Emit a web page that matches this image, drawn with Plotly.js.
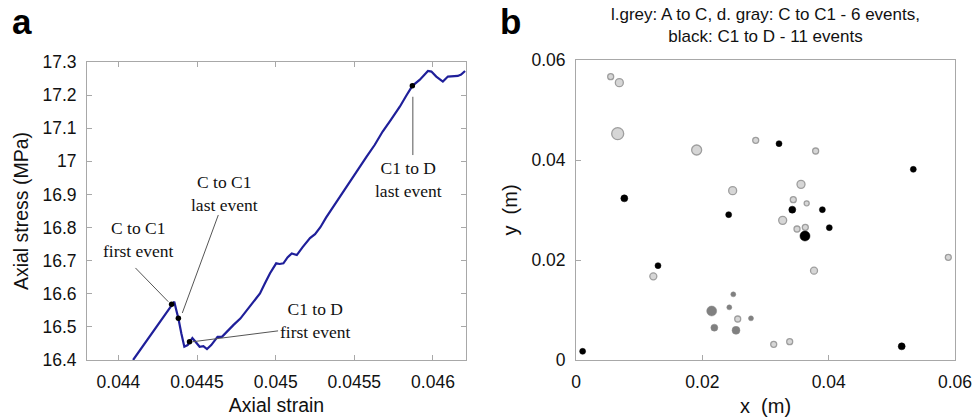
<!DOCTYPE html>
<html><head><meta charset="utf-8">
<script src="https://cdn.plot.ly/plotly-3.0.1.min.js"></script>
<style>html,body{margin:0;padding:0;background:#fff}#chart{width:976px;height:417px}</style>
</head><body><div id="chart"></div>
<script>
// Panel a: stress-strain curve
const strain = [0.044093,0.044200,0.044300,0.044338,0.044355,0.044368,0.044381,0.044400,0.044419,0.044440,0.044452,0.044470,0.044490,0.044516,0.044540,0.044563,0.044590,0.044630,0.044658,0.044690,0.044732,0.044775,0.044817,0.044860,0.044900,0.044930,0.044964,0.045003,0.045025,0.045049,0.045075,0.045102,0.045134,0.045170,0.045218,0.045250,0.045284,0.045320,0.045366,0.045410,0.045450,0.045500,0.045578,0.045630,0.045680,0.045730,0.045789,0.045830,0.045869,0.045915,0.045968,0.045990,0.046021,0.046063,0.046095,0.046158,0.046179,0.046204];
const stress = [16.400,16.472,16.539,16.565,16.576,16.550,16.526,16.480,16.440,16.445,16.455,16.466,16.455,16.440,16.442,16.433,16.445,16.470,16.470,16.486,16.506,16.525,16.551,16.575,16.601,16.630,16.662,16.692,16.690,16.692,16.710,16.722,16.717,16.740,16.768,16.780,16.801,16.830,16.863,16.893,16.925,16.958,17.014,17.050,17.090,17.124,17.165,17.198,17.228,17.246,17.273,17.271,17.256,17.241,17.256,17.258,17.262,17.273];
// Event markers on the curve
const eventStrain = [0.044338,0.044381,0.044452,0.045869];
const eventStress = [16.568,16.526,16.455,17.228];
// Callout labels and their leader lines (data units)
const calloutText = ["C to C1<br>first event","C to C1<br>last event","C1 to D<br>first event","C1 to D<br>last event"];
const calloutX = [0.044125,0.044673,0.045250,0.045846];
const calloutY = [16.763,16.902,16.519,16.945];
const leaderX0 = [0.044108,0.044635,0.045015,0.045872];
const leaderY0 = [16.678,16.838,16.488,17.195];
const leaderX1 = [0.044317,0.044406,0.044470,0.045872];
const leaderY1 = [16.576,16.542,16.455,17.019];
const strainTicks = [0.044,0.0445,0.045,0.0455,0.046];
const stressTicks = [16.4,16.5,16.6,16.7,16.8,16.9,17,17.1,17.2,17.3];

// Panel b: event locations
const lgX = [0.00549,0.00686,0.0066,0.0191,0.02845,0.03794,0.0248,0.03562,0.0344,0.03652,0.03272,0.03499,0.0363,0.03768,0.01224,0.05894,0.0256,0.0313,0.03383];
const lgY = [0.05667,0.05547,0.04527,0.042,0.04393,0.0418,0.03387,0.03513,0.03207,0.03133,0.02793,0.0262,0.02653,0.01787,0.01673,0.02053,0.0082,0.00313,0.00367];
const lgMag = [3,4,6,5,3,3,4,4,3,2.5,4,3,3,3.5,3.5,3,3,3,3];
const dgX = [0.0249,0.02427,0.02148,0.0277,0.0219,0.02533];
const dgY = [0.01313,0.01053,0.0098,0.00833,0.00647,0.00593];
const dgMag = [2.5,2.5,5,2.5,3.5,4];
const bkX = [0.03214,0.0534,0.00765,0.02417,0.03424,0.039,0.0401,0.03625,0.01298,0.00105,0.05156];
const bkY = [0.04327,0.03813,0.03233,0.02907,0.03007,0.03007,0.02647,0.0248,0.01887,0.00173,0.00273];
const bkMag = [3,3,3.5,3,3.5,3,3,5,3,3,3.5];
const posTicks = [0,0.02,0.04,0.06];

const sans = "Liberation Sans, Arial, sans-serif";
const serif = "Liberation Serif, Times New Roman, serif";
const sz = m => m.map(v => v*2);

const traces = [
  {x: strain, y: stress, type:'scatter', mode:'lines', line:{color:'#1f1f9a', width:2.2}, xaxis:'x', yaxis:'y', hoverinfo:'skip'},
  {x: eventStrain, y: eventStress, type:'scatter', mode:'markers', marker:{color:'#000', size:5.5, opacity:1}, xaxis:'x', yaxis:'y'},
  {x: lgX, y: lgY, type:'scatter', mode:'markers', marker:{color:'#d6d6d6', size:sz(lgMag), opacity:1, line:{color:'#9e9e9e', width:1.3}}, xaxis:'x2', yaxis:'y2'},
  {x: dgX, y: dgY, type:'scatter', mode:'markers', marker:{color:'#808080', size:sz(dgMag), opacity:1, line:{color:'#8a8a8a', width:0.5}}, xaxis:'x2', yaxis:'y2'},
  {x: bkX, y: bkY, type:'scatter', mode:'markers', marker:{color:'#000', size:sz(bkMag), opacity:1, line:{color:'#000', width:0.5}}, xaxis:'x2', yaxis:'y2'}
];

const axBase = {showgrid:false, zeroline:false, showline:true, linecolor:'#a8a8a8', linewidth:1, ticks:'inside', ticklen:5, tickcolor:'#a8a8a8', mirror:'ticks', ticklabelstandoff:6, tickfont:{family:sans, size:17.5, color:'#111'}};

const shapes = leaderX0.map((x0,i)=>({type:'line', xref:'x', yref:'y', x0:x0, y0:leaderY0[i], x1:leaderX1[i], y1:leaderY1[i], line:{color:'#555', width:1}}));

const annotations = calloutText.map((t,i)=>({xref:'x', yref:'y', x:calloutX[i], y:calloutY[i], text:t, showarrow:false, font:{family:serif, size:17.5, color:'#111'}, align:'center'}));
annotations.push({xref:'paper', yref:'paper', x:10/976, y:1, xanchor:'left', yanchor:'top', text:'<b>a</b>', showarrow:false, font:{family:sans, size:35, color:'#000'}});
annotations.push({xref:'paper', yref:'paper', x:498/976, y:1, xanchor:'left', yanchor:'top', text:'<b>b</b>', showarrow:false, font:{family:sans, size:35, color:'#000'}});
annotations.push({xref:'paper', yref:'paper', x:765.5/976, y:1-3/417, xanchor:'center', yanchor:'top', text:'l.grey: A to C, d. gray: C to C1 - 6 events,<br>black: C1 to D - 11 events', showarrow:false, font:{family:sans, size:17, color:'#111'}, align:'center'});

const layout = {
  width:976, height:417, margin:{l:0,r:0,t:0,b:0}, showlegend:false, paper_bgcolor:'#fff', plot_bgcolor:'#fff',
  xaxis: Object.assign({}, axBase, {domain:[87/976,466/976], range:[0.0438,0.04621], tickvals:strainTicks, ticktext:strainTicks.map(String), title:{text:'Axial strain', font:{family:sans,size:19.5,color:'#111'}, standoff:7}, anchor:'y'}),
  yaxis: Object.assign({}, axBase, {domain:[1-360/417,1-62/417], range:[16.4,17.3], tickvals:stressTicks, ticktext:stressTicks.map(String), title:{text:'Axial stress (MPa)', font:{family:sans,size:19.5,color:'#111'}, standoff:8}, anchor:'x'}),
  xaxis2: Object.assign({}, axBase, {domain:[576/976,955/976], range:[0,0.06], tickvals:posTicks, ticktext:posTicks.map(String), mirror:true, title:{text:'x  (m)', font:{family:sans,size:20,color:'#111'}, standoff:7}, anchor:'y2'}),
  yaxis2: Object.assign({}, axBase, {domain:[1-360/417,1-60/417], range:[0,0.06], tickvals:posTicks, ticktext:posTicks.map(String), mirror:true, title:{text:'y  (m)', font:{family:sans,size:20,color:'#111'}, standoff:8}, anchor:'x2'}),
  shapes: shapes, annotations: annotations
};
Plotly.newPlot('chart', traces, layout, {displayModeBar:false, staticPlot:true});
</script></body></html>
